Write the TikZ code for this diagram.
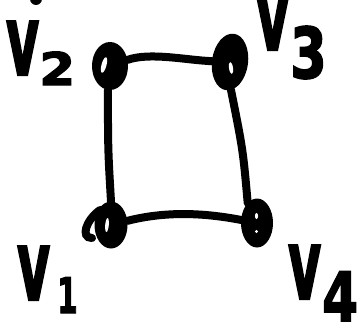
\documentclass[tikz,border=0pt]{standalone}
\usepackage{fontspec}
\setmainfont{DejaVu Sans}
\newfontfamily\handfont[FakeBold=2.5]{DejaVu Sans Bold}
\usetikzlibrary{shapes.geometric}
\newcommand{\vlab}[5]{%
\scalebox{0.52}[1]{\fontsize{98}{98}\selectfont\handfont v}\hspace{#5pt}\raisebox{-#4pt}{\scalebox{#3}[1]{\fontsize{#2}{#2}\selectfont\handfont #1}}}
\begin{document}
\begin{tikzpicture}[x=1pt,y=-1pt,
  vert/.style={ellipse,fill=black,inner sep=0pt,outer sep=0pt},
  edge/.style={line width=8pt,line cap=round},
  lab/.style={anchor=base west,inner sep=0pt,outer sep=0pt},
  hilite/.style={fill=white}]
\useasboundingbox (0,0) rectangle (364,332);
% vertices
\node[vert,minimum width=36,minimum height=48] (v2) at (110,66) {};
\node[vert,minimum width=36,minimum height=57,rotate=-8] (v3) at (230,62) {};
\node[vert,minimum width=33,minimum height=47] (v1) at (111,225) {};
\node[vert,minimum width=32,minimum height=49] (v4) at (257,223) {};
% edges
\draw[edge] (v2) .. controls (150,52) and (185,60) .. (v3);
\draw[edge] (v2.-95) .. controls (108,150) .. (v1.90);
\draw[edge] (v3.-80) .. controls (243,150) .. (v4.115);
\draw[edge] (v1) .. controls (170,210) and (210,214) .. (v4);
% hand-drawn extras
\draw[edge] (100,210) .. controls (86,220) and (80,238) .. (92,238);
\fill (36,-1) ellipse (6 and 6);
\fill[hilite,rotate around={-15:(104,65)}] (104,65) ellipse (2.5 and 8);
\fill[hilite,rotate around={8:(231,68)}] (231,68) ellipse (2 and 6);
\fill[hilite,rotate around={-5:(107,225)}] (107,225) ellipse (1.8 and 7);
\fill[hilite] (256.5,216) ellipse (1.6 and 3);
\fill[hilite] (256.5,231.5) ellipse (1.6 and 1.6);
% labels
\node[lab] (l2) at (6,75) {\vlab{2}{45}{1.15}{10}{0}};
\node[lab] (l3) at (256,50) {\vlab{3}{70}{0.75}{28}{1}};
\node[lab] (l1) at (17,300) {\vlab{1}{49}{0.6}{13}{7}};
\node[lab] (l4) at (288,299) {\vlab{4}{68}{0.76}{22}{1}};
\end{tikzpicture}
\end{document}
